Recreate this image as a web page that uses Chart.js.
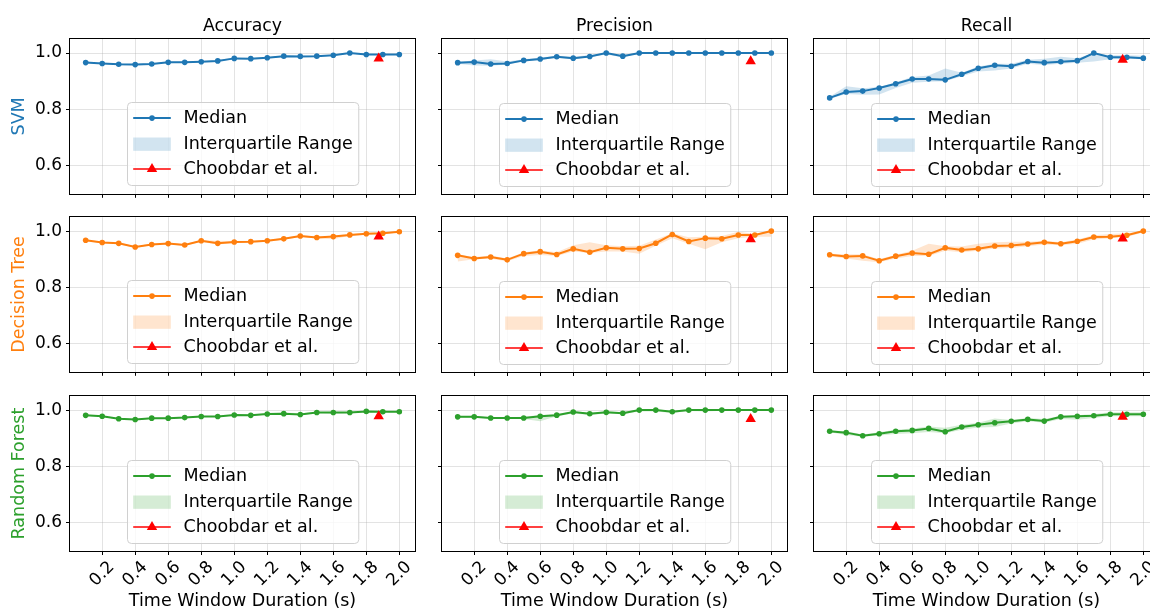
<!DOCTYPE html>
<html>
<head>
<meta charset="utf-8">
<script src="https://cdn.jsdelivr.net/npm/chart.js@4.4.0/dist/chart.umd.min.js"></script>
<style>
  html, body { margin: 0; padding: 0; background: #fff; }
  body { width: 1150px; height: 612px; overflow: hidden; position: relative; }
  canvas { position: absolute; }
</style>
</head>
<body>
<script>
// time window durations (s)
const xValues = [0.1, 0.2, 0.3, 0.4, 0.5, 0.6, 0.7, 0.8, 0.9, 1.0, 1.1, 1.2, 1.3, 1.4, 1.5, 1.6, 1.7, 1.8, 1.9, 2.0];
const xTicks = [0.2, 0.4, 0.6, 0.8, 1.0, 1.2, 1.4, 1.6, 1.8, 2.0];
const yTicks = [0.6, 0.8, 1.0];
const colNames = ['Accuracy', 'Precision', 'Recall'];
const rowNames = ['SVM', 'Decision Tree', 'Random Forest'];
const rowColors = ['#1f77b4', '#ff7f0e', '#2ca02c'];
const legendLabels = ['Median', 'Interquartile Range', 'Choobdar et al.'];

// reference result (Choobdar et al.)
const choobdarX = 1.875;
const choobdarSvm = [0.981, 0.971, 0.976];
const choobdarTree = [0.981, 0.971, 0.974];
const choobdarForest = [0.979, 0.968, 0.976];

// SVM
const svmAccMedian = [0.966, 0.963, 0.960, 0.959, 0.961, 0.967, 0.967, 0.969, 0.972, 0.981, 0.980, 0.983, 0.989, 0.988, 0.989, 0.992, 1.000, 0.995, 0.995, 0.995];
const svmAccQ1 = [0.964, 0.961, 0.957, 0.956, 0.959, 0.965, 0.965, 0.967, 0.970, 0.979, 0.978, 0.981, 0.987, 0.986, 0.987, 0.990, 0.998, 0.993, 0.993, 0.993];
const svmAccQ3 = [0.968, 0.965, 0.962, 0.961, 0.963, 0.969, 0.969, 0.971, 0.975, 0.983, 0.982, 0.985, 0.991, 0.990, 0.991, 0.994, 1.000, 0.997, 0.997, 0.997];
const svmPrecMedian = [0.966, 0.968, 0.961, 0.963, 0.974, 0.979, 0.987, 0.982, 0.988, 1.000, 0.989, 1.000, 1.000, 1.000, 1.000, 1.000, 1.000, 1.000, 1.000, 1.000];
const svmPrecQ1 = [0.962, 0.956, 0.955, 0.959, 0.970, 0.975, 0.983, 0.978, 0.985, 0.995, 0.985, 0.998, 0.999, 1.000, 1.000, 1.000, 1.000, 1.000, 1.000, 1.000];
const svmPrecQ3 = [0.969, 0.974, 0.978, 0.970, 0.978, 0.984, 0.990, 0.987, 0.993, 1.000, 0.995, 1.000, 1.000, 1.000, 1.000, 1.000, 1.000, 1.000, 1.000, 1.000];
const svmRecMedian = [0.841, 0.862, 0.865, 0.876, 0.891, 0.908, 0.908, 0.905, 0.925, 0.946, 0.957, 0.953, 0.970, 0.966, 0.969, 0.973, 1.000, 0.985, 0.985, 0.982];
const svmRecQ1 = [0.838, 0.855, 0.852, 0.853, 0.876, 0.895, 0.898, 0.900, 0.918, 0.935, 0.938, 0.945, 0.962, 0.958, 0.962, 0.966, 0.970, 0.978, 0.980, 0.978];
const svmRecQ3 = [0.845, 0.882, 0.875, 0.880, 0.896, 0.915, 0.920, 0.945, 0.930, 0.952, 0.962, 0.962, 0.976, 0.980, 0.987, 0.982, 1.000, 0.992, 0.992, 0.990];

// Decision Tree
const treeAccMedian = [0.968, 0.960, 0.957, 0.944, 0.953, 0.956, 0.951, 0.966, 0.957, 0.962, 0.963, 0.966, 0.973, 0.983, 0.978, 0.981, 0.987, 0.991, 0.993, 0.998];
const treeAccQ1 = [0.965, 0.957, 0.954, 0.941, 0.950, 0.953, 0.948, 0.962, 0.953, 0.958, 0.960, 0.963, 0.970, 0.980, 0.974, 0.972, 0.984, 0.988, 0.990, 0.996];
const treeAccQ3 = [0.971, 0.963, 0.960, 0.947, 0.956, 0.959, 0.955, 0.969, 0.966, 0.965, 0.966, 0.969, 0.976, 0.986, 0.981, 0.984, 0.990, 0.994, 0.996, 1.000];
const treePrecMedian = [0.914, 0.903, 0.908, 0.898, 0.920, 0.927, 0.917, 0.937, 0.925, 0.941, 0.937, 0.938, 0.957, 0.988, 0.963, 0.975, 0.973, 0.986, 0.986, 1.000];
const treePrecQ1 = [0.892, 0.900, 0.902, 0.893, 0.912, 0.915, 0.912, 0.928, 0.922, 0.928, 0.928, 0.920, 0.948, 0.975, 0.955, 0.936, 0.960, 0.975, 0.980, 0.980];
const treePrecQ3 = [0.917, 0.908, 0.913, 0.903, 0.925, 0.932, 0.925, 0.950, 0.960, 0.950, 0.946, 0.948, 0.970, 0.992, 0.978, 0.980, 0.983, 0.998, 0.990, 1.000];
const treeRecMedian = [0.916, 0.910, 0.912, 0.895, 0.911, 0.922, 0.918, 0.941, 0.933, 0.937, 0.947, 0.949, 0.954, 0.960, 0.955, 0.964, 0.979, 0.980, 0.985, 1.000];
const treeRecQ1 = [0.911, 0.903, 0.895, 0.889, 0.903, 0.912, 0.912, 0.930, 0.925, 0.930, 0.938, 0.940, 0.946, 0.952, 0.950, 0.955, 0.970, 0.975, 0.980, 0.995];
const treeRecQ3 = [0.920, 0.918, 0.918, 0.900, 0.916, 0.930, 0.955, 0.946, 0.945, 0.955, 0.960, 0.962, 0.962, 0.966, 0.960, 0.970, 0.985, 0.990, 0.992, 1.000];

// Random Forest
const forestAccMedian = [0.982, 0.979, 0.970, 0.967, 0.972, 0.972, 0.974, 0.978, 0.978, 0.983, 0.982, 0.987, 0.988, 0.985, 0.992, 0.992, 0.992, 0.996, 0.995, 0.995];
const forestAccQ1 = [0.980, 0.977, 0.968, 0.965, 0.970, 0.970, 0.972, 0.976, 0.976, 0.981, 0.980, 0.985, 0.986, 0.982, 0.990, 0.988, 0.990, 0.994, 0.993, 0.993];
const forestAccQ3 = [0.984, 0.981, 0.972, 0.969, 0.974, 0.974, 0.976, 0.980, 0.980, 0.985, 0.985, 0.989, 0.992, 0.989, 0.994, 0.995, 0.994, 0.998, 0.997, 0.997];
const forestPrecMedian = [0.976, 0.976, 0.972, 0.972, 0.972, 0.978, 0.982, 0.993, 0.987, 0.992, 0.989, 1.000, 1.000, 0.994, 1.000, 1.000, 1.000, 1.000, 1.000, 1.000];
const forestPrecQ1 = [0.973, 0.972, 0.970, 0.969, 0.968, 0.960, 0.978, 0.988, 0.983, 0.988, 0.985, 0.995, 0.995, 0.990, 0.997, 0.995, 0.998, 1.000, 1.000, 1.000];
const forestPrecQ3 = [0.979, 0.979, 0.975, 0.975, 0.976, 0.983, 0.986, 0.996, 0.991, 0.995, 0.993, 1.000, 1.000, 0.998, 1.000, 1.000, 1.000, 1.000, 1.000, 1.000];
const forestRecMedian = [0.925, 0.920, 0.909, 0.916, 0.925, 0.928, 0.935, 0.923, 0.940, 0.948, 0.955, 0.960, 0.967, 0.961, 0.976, 0.978, 0.980, 0.985, 0.985, 0.985];
const forestRecQ1 = [0.921, 0.912, 0.905, 0.910, 0.915, 0.918, 0.922, 0.918, 0.930, 0.938, 0.940, 0.952, 0.960, 0.955, 0.968, 0.966, 0.972, 0.978, 0.978, 0.978];
const forestRecQ3 = [0.928, 0.925, 0.913, 0.921, 0.930, 0.935, 0.942, 0.937, 0.948, 0.955, 0.970, 0.965, 0.972, 0.968, 0.980, 0.982, 0.986, 0.992, 0.992, 0.992];

// rows x cols
const panels = [
  [[svmAccMedian, svmAccQ1, svmAccQ3], [svmPrecMedian, svmPrecQ1, svmPrecQ3], [svmRecMedian, svmRecQ1, svmRecQ3]],
  [[treeAccMedian, treeAccQ1, treeAccQ3], [treePrecMedian, treePrecQ1, treePrecQ3], [treeRecMedian, treeRecQ1, treeRecQ3]],
  [[forestAccMedian, forestAccQ1, forestAccQ3], [forestPrecMedian, forestPrecQ1, forestPrecQ3], [forestRecMedian, forestRecQ1, forestRecQ3]]
];
const choobdar = [choobdarSvm, choobdarTree, choobdarForest];

// layout of the plot areas (px)
const plotLefts = [70, 442, 814];
const plotTops = [39, 217, 396];
const plotW = 345, plotH = 155;
const FONT = '"DejaVu Sans", sans-serif';
const gridColor = 'rgba(176,176,176,0.35)';

function withAlpha(hex, a) {
  const n = parseInt(hex.slice(1), 16);
  return `rgba(${n >> 16},${(n >> 8) & 255},${n & 255},${a})`;
}

// frame, legend box and rotated x tick labels
const panelDecor = {
  id: 'panelDecor',
  afterDraw(chart, args, opts) {
    const ctx = chart.ctx, a = chart.chartArea;
    ctx.save();

    // spines
    ctx.strokeStyle = '#000';
    ctx.lineWidth = 1;
    ctx.strokeRect(Math.round(a.left) - 0.5, Math.round(a.top) - 0.5,
      Math.round(a.right - a.left) + 1, Math.round(a.bottom - a.top) + 1);

    ctx.fillStyle = '#000';

    if (opts.xLabels) {
      const xs = chart.scales.x;
      ctx.font = '17px ' + FONT;
      ctx.textAlign = 'center';
      ctx.textBaseline = 'middle';
      xTicks.forEach(v => {
        ctx.save();
        ctx.translate(xs.getPixelForValue(v), a.bottom + 23);
        ctx.rotate(-Math.PI / 4);
        ctx.fillText(v.toFixed(1), 0, 0);
        ctx.restore();
      });
    }

    // legend (lower center)
    ctx.font = '17.5px ' + FONT;
    const textW = Math.max(...legendLabels.map(t => ctx.measureText(t).width));
    const w = 56 + textW + 6, h = 83;
    const bx = Math.round((a.left + a.right) / 2 - w / 2) + 0.5;
    const by = Math.round(a.bottom - 8.5 - h) + 0.5;
    ctx.beginPath();
    ctx.roundRect(bx, by, w, h, 4);
    ctx.fillStyle = 'rgba(255,255,255,0.8)';
    ctx.fill();
    ctx.strokeStyle = '#d0d0d0';
    ctx.stroke();

    const rowY = [15.6, 41.6, 66.6];
    const hx0 = bx + 5.7, hx1 = bx + 43.3, hc = (hx0 + hx1) / 2;
    // median
    ctx.strokeStyle = opts.color;
    ctx.lineWidth = 2;
    ctx.beginPath();
    ctx.moveTo(hx0, by + rowY[0]); ctx.lineTo(hx1, by + rowY[0]);
    ctx.stroke();
    ctx.fillStyle = opts.color;
    ctx.beginPath();
    ctx.arc(hc, by + rowY[0], 2.8, 0, Math.PI * 2);
    ctx.fill();
    // iqr patch
    ctx.fillStyle = withAlpha(opts.color, 0.2);
    ctx.fillRect(hx0, by + rowY[1] - 6.6, hx1 - hx0, 13.3);
    // choobdar
    ctx.strokeStyle = 'red';
    ctx.lineWidth = 1.5;
    ctx.beginPath();
    ctx.moveTo(hx0, by + rowY[2]); ctx.lineTo(hx1, by + rowY[2]);
    ctx.stroke();
    const r = 6, ty = by + rowY[2];
    ctx.fillStyle = 'red';
    ctx.beginPath();
    ctx.moveTo(hc, ty - r);
    ctx.lineTo(hc + 0.866 * r, ty + 0.5 * r);
    ctx.lineTo(hc - 0.866 * r, ty + 0.5 * r);
    ctx.closePath();
    ctx.fill();

    ctx.fillStyle = '#000';
    ctx.textAlign = 'left';
    ctx.textBaseline = 'middle';
    legendLabels.forEach((t, i) => ctx.fillText(t, bx + 56, by + rowY[i]));

    ctx.restore();
  }
};

for (let r = 0; r < 3; r++) {
  for (let c = 0; c < 3; c++) {
    const mL = c === 0 ? 70 : 14;
    const mR = 14;
    const mT = r === 0 ? 39 : 14;
    const mB = r === 2 ? 612 - (plotTops[2] + plotH) : 14;
    const color = rowColors[r];
    const [med, q1, q3] = panels[r][c];

    const canvas = document.createElement('canvas');
    canvas.width = mL + plotW + mR;
    canvas.height = mT + plotH + mB;
    canvas.style.left = (plotLefts[c] - mL) + 'px';
    canvas.style.top = (plotTops[r] - mT) + 'px';
    document.body.appendChild(canvas);

    const pts = arr => xValues.map((x, i) => ({ x: x, y: arr[i] }));

    new Chart(canvas.getContext('2d'), {
      type: 'line',
      data: {
        datasets: [
          {
            label: 'Choobdar et al.',
            data: [{ x: choobdarX, y: choobdar[r][c] }],
            showLine: false,
            pointStyle: 'triangle',
            pointRadius: 6,
            pointBackgroundColor: 'red',
            pointBorderColor: 'red',
            pointBorderWidth: 0
          },
          {
            label: 'Median',
            data: pts(med),
            borderColor: color,
            borderWidth: 2,
            pointRadius: 2.8,
            pointBackgroundColor: color,
            pointBorderWidth: 0,
            fill: false
          },
          {
            label: 'Q1',
            data: pts(q1),
            borderWidth: 0,
            pointRadius: 0,
            fill: false
          },
          {
            label: 'Interquartile Range',
            data: pts(q3),
            borderWidth: 0,
            pointRadius: 0,
            backgroundColor: withAlpha(color, 0.2),
            fill: '-1'
          }
        ]
      },
      options: {
        responsive: false,
        animation: false,
        devicePixelRatio: 1,
        events: [],
        layout: { padding: { left: 0, right: mR, top: r === 0 ? 0 : mT, bottom: 0 } },
        plugins: {
          legend: { display: false },
          tooltip: { enabled: false },
          title: {
            display: r === 0,
            text: colNames[c],
            fullSize: false,
            color: '#000',
            font: { family: FONT, size: 17.3, weight: 'normal' },
            padding: { top: 16, bottom: 2.2 }
          },
          panelDecor: { color: color, xLabels: r === 2 }
        },
        scales: {
          x: {
            type: 'linear',
            min: 0.005,
            max: 2.095,
            afterBuildTicks: s => { s.ticks = xTicks.map(v => ({ value: v })); },
            afterFit: s => { s.height = mB; },
            grid: { color: gridColor, tickColor: '#000', tickLength: 4, lineWidth: 1 },
            border: { display: false },
            ticks: { display: false, autoSkip: false },
            title: {
              display: r === 2,
              text: 'Time Window Duration (s)',
              color: '#000',
              font: { family: FONT, size: 17.5 },
              padding: { top: 0, bottom: 0 }
            }
          },
          y: {
            min: 0.5,
            max: 1.05,
            afterBuildTicks: s => { s.ticks = yTicks.map(v => ({ value: v })); },
            afterFit: s => { s.width = mL; },
            grid: { color: gridColor, tickColor: '#000', tickLength: 4, lineWidth: 1 },
            border: { display: false },
            ticks: {
              display: c === 0,
              color: '#000',
              font: { family: FONT, size: 17 },
              padding: 4,
              callback: v => v.toFixed(1)
            },
            title: {
              display: c === 0,
              text: rowNames[r],
              color: color,
              font: { family: FONT, size: 17.5 },
              padding: { top: 9, bottom: 0 }
            }
          }
        }
      },
      plugins: [panelDecor]
    });
  }
}
</script>
</body>
</html>
